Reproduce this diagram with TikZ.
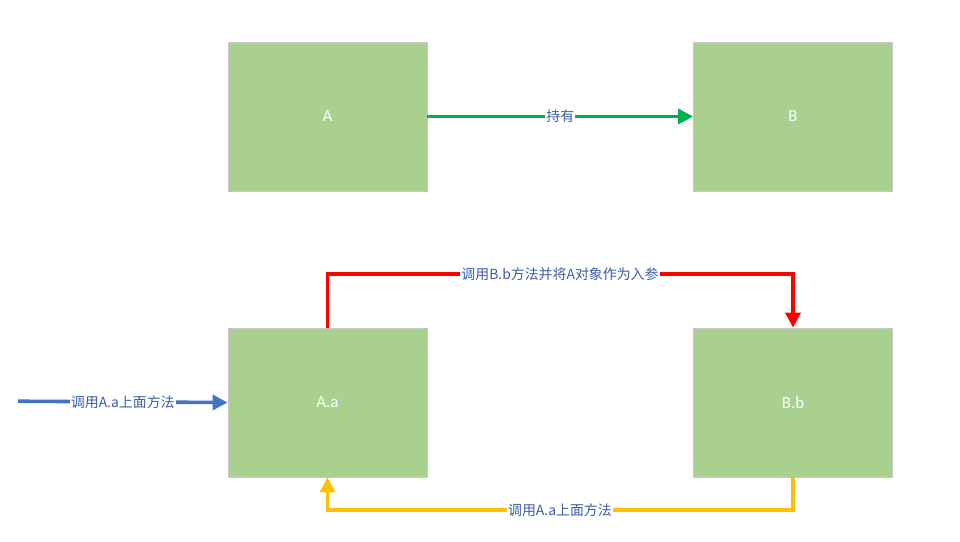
\documentclass[tikz,border=0pt]{standalone}
\usepackage{fontspec}
\setmainfont{Carlito}
\newfontfamily\cjk{Noto Sans CJK SC}
\usepackage{tikz}
\usetikzlibrary{arrows.meta}
\definecolor{boxgreen}{HTML}{A9D08E}
\definecolor{boxedge}{HTML}{C8C8C8}
\definecolor{holdgreen}{HTML}{00B050}
\definecolor{callred}{HTML}{FF0000}
\definecolor{callyellow}{HTML}{FFC000}
\definecolor{callblue}{HTML}{4472C4}
\definecolor{labelblue}{HTML}{3B5EA6}
\tikzset{
  obj/.style={draw=boxedge, line width=0.4pt, fill=boxgreen, minimum width=3.317cm,
    minimum height=2.483cm, text=white, font=\fontsize{8}{9}\selectfont},
  link/.style={line width=1.7pt, -{Triangle[length=0.25cm, width=0.25cm]}},
  tag/.style={fill=white, inner sep=0.5pt, text=labelblue, font=\cjk\fontsize{6.6}{7}\selectfont}
}
\begin{document}
\begin{tikzpicture}
\useasboundingbox (0,0) rectangle (16,9.017);
\node[obj] (A) at (5.458,7.075) {A};
\node[obj] (B) at (13.217,7.075) {B};
\node[obj] (Aa) at (5.458,2.308) {A.a};
\node[obj] (Bb) at (13.217,2.308) {B.b};
\coordinate (caller) at (0.3,2.33);
\coordinate (redtop) at (9.333,4.45);
\coordinate (yellowbot) at (9.333,0.517);
\draw [link, holdgreen] (A) -- node[tag] {持有} (B);
\draw [link, callred] (Aa.north) |- (redtop) -| (Bb.north);
\node[tag] at (redtop) {调用B.b方法并将A对象作为入参};
\draw [link, callyellow] (Bb.south) |- (yellowbot) -| (Aa.south);
\node[tag] at (yellowbot) {调用A.a上面方法};
\draw [link, callblue] (caller) -- node[tag, pos=0.5] {调用A.a上面方法} (Aa.west);
\end{tikzpicture}
\end{document}
